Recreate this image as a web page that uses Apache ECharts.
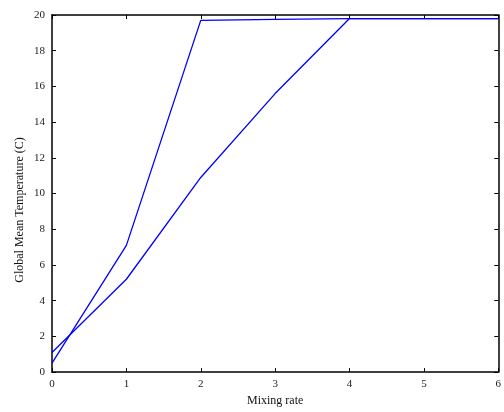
<!DOCTYPE html>
<html>
<head>
<meta charset="utf-8">
<script src="https://cdn.jsdelivr.net/npm/echarts@6/dist/echarts.min.js"></script>
<style>
  html, body { margin: 0; padding: 0; background: #fff; }
  #chart { width: 504px; height: 412px; }
</style>
</head>
<body>
<div id="chart"></div>
<script>
// Mixing rate on the x axis, global mean temperature on the y axis
const mixingRate = [0, 1, 2, 3, 4, 5, 6];
const tempRunA = [0.5, 7.1, 19.7, 19.75, 19.8, 19.8, 19.8];
const tempRunB = [1.1, 5.2, 10.9, 15.6, 19.8, 19.8, 19.8];
const yTitle = 'Global Mean Temperature (C)';
const xTitle = 'Mixing rate';

const serif = '"Liberation Serif", "DejaVu Serif", serif';
const frameLine = { show: true, onZero: false, lineStyle: { color: '#000', width: 1.5 } };
const innerTicks = { show: true, inside: true, length: 4, lineStyle: { color: '#000', width: 1 } };
const labelStyle = { color: '#222', fontFamily: serif, fontSize: 11 };

const chart = echarts.init(document.getElementById('chart'), null, { renderer: 'canvas' });

chart.setOption({
  animation: false,
  backgroundColor: '#fff',
  grid: { left: 52, right: 1, top: 15, bottom: 39, containLabel: false },
  xAxis: [
    {
      type: 'value', position: 'bottom', min: 0, max: 6, interval: 1,
      name: xTitle, nameLocation: 'middle', nameGap: 22,
      nameTextStyle: { color: '#111', fontFamily: serif, fontSize: 12, letterSpacing: 1 },
      axisLine: frameLine, axisTick: innerTicks,
      axisLabel: Object.assign({ margin: 7, showMaxLabel: true }, labelStyle),
      splitLine: { show: false }
    },
    {
      type: 'value', position: 'top', min: 0, max: 6, interval: 1,
      axisLine: frameLine, axisTick: innerTicks,
      axisLabel: { show: false }, splitLine: { show: false }
    }
  ],
  yAxis: [
    {
      type: 'value', position: 'left', min: 0, max: 20, interval: 2,
      axisLine: frameLine, axisTick: innerTicks,
      axisLabel: Object.assign({ margin: 7 }, labelStyle),
      splitLine: { show: false }
    },
    {
      type: 'value', position: 'right', min: 0, max: 20, interval: 2,
      axisLine: frameLine, axisTick: innerTicks,
      axisLabel: { show: false }, splitLine: { show: false }
    }
  ],
  graphic: [
    {
      type: 'text', x: 20, y: 210, rotation: Math.PI / 2,
      style: {
        text: yTitle, fill: '#111', font: '12px ' + serif,
        textAlign: 'center', textVerticalAlign: 'middle'
      }
    }
  ],
  series: [
    {
      type: 'line', xAxisIndex: 0, yAxisIndex: 0,
      data: mixingRate.map((x, i) => [x, tempRunA[i]]),
      showSymbol: false, lineStyle: { color: '#0000ff', width: 1.3 }
    },
    {
      type: 'line', xAxisIndex: 0, yAxisIndex: 0,
      data: mixingRate.map((x, i) => [x, tempRunB[i]]),
      showSymbol: false, lineStyle: { color: '#0000ff', width: 1.3 }
    }
  ]
});
</script>
</body>
</html>
